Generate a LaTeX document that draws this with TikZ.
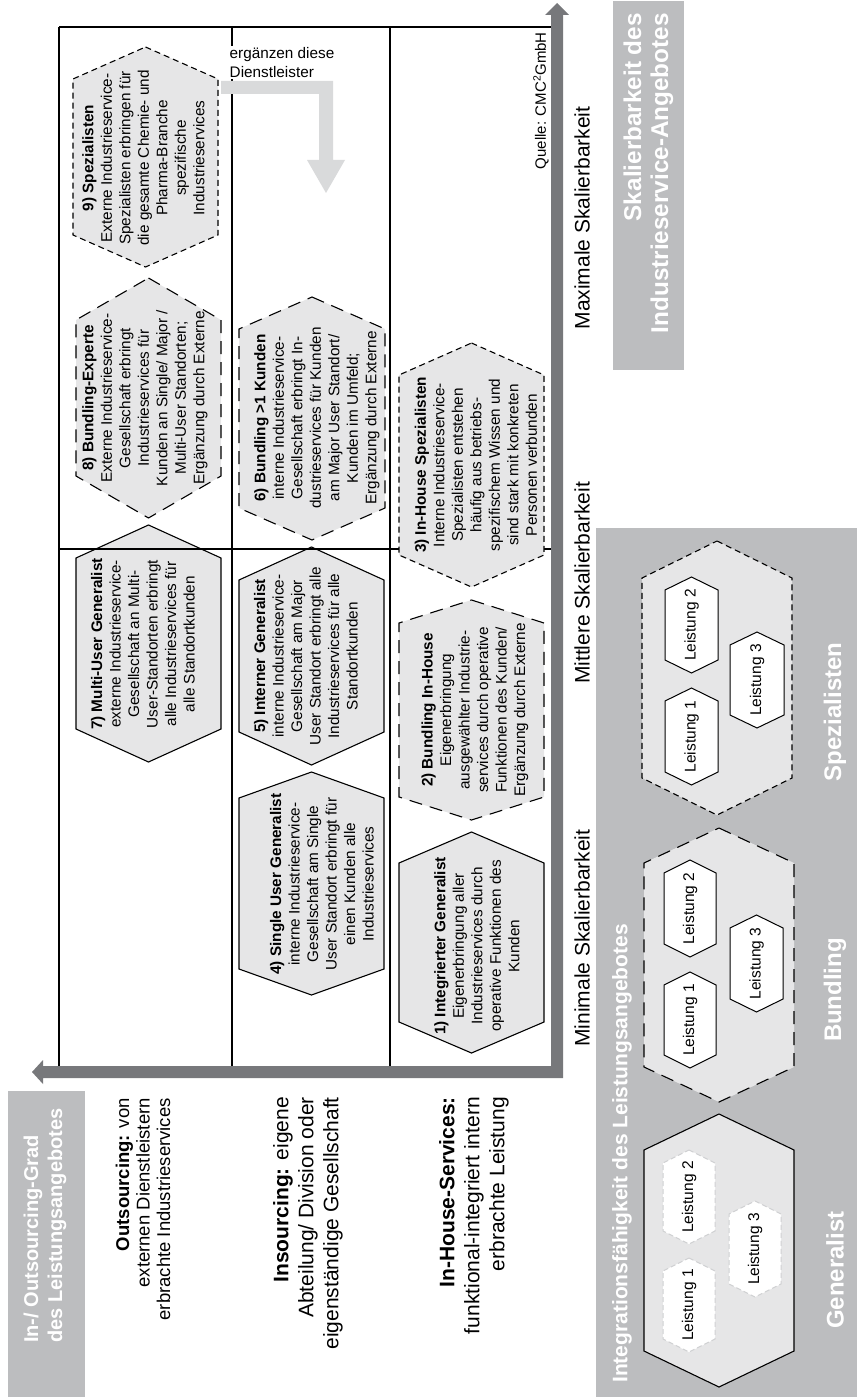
\documentclass[tikz,border=0pt]{standalone}
\usepackage{fontspec}
\setmainfont{Liberation Sans}
\definecolor{panelgray}{HTML}{BCBDBF}
\definecolor{hexgray}{HTML}{E6E6E7}
\definecolor{axisgray}{HTML}{77787B}
\definecolor{hintgray}{HTML}{D9DADB}
\definecolor{ghostgray}{HTML}{CFD0D2}

% hexagon with pointed ends at top and bottom: [style]{left}{right}{top}{bottom}{shoulder}
\newcommand\hexshape[6][]{%
  \draw[#1] ({(#2+#3)/2},#4) -- (#3,{#4+#6}) -- (#3,{#5-#6}) -- ({(#2+#3)/2},#5)
    -- (#2,{#5-#6}) -- (#2,{#4+#6}) -- cycle;}

\tikzset{
  hexsolid/.style={fill=hexgray, draw=black, line width=1.1pt},
  hexlong/.style={fill=hexgray, draw=black, line width=1.1pt, dash pattern=on 13pt off 8pt},
  hexshort/.style={fill=hexgray, draw=black, line width=1.1pt, dash pattern=on 6pt off 4pt},
  smallhex/.style={fill=white, draw=black, line width=1pt},
  ghosthex/.style={fill=white, draw=ghostgray, line width=1pt, dash pattern=on 5pt off 3pt},
  gridline/.style={draw=black, line width=1.3pt},
  body/.style={rotate=90, align=center, inner sep=0pt, font=\fontsize{15.3}{18.5}\selectfont},
  rowlabel/.style={rotate=90, align=right, inner sep=0pt, anchor=east},
  collabel/.style={rotate=90, inner sep=0pt, font=\fontsize{21}{25}\selectfont},
  paneltitle/.style={rotate=90, inner sep=0pt, text=white, font=\bfseries\fontsize{21}{25}\selectfont},
  kindlabel/.style={rotate=90, inner sep=0pt, text=white, font=\bfseries\fontsize{24}{28}\selectfont},
  leist/.style={rotate=90, inner sep=0pt, font=\fontsize{15.5}{18}\selectfont},
}

\begin{document}
\begin{tikzpicture}[x=1pt,y=-1pt]
\useasboundingbox (0,0) rectangle (857,1399);

% grey title panels
\fill[panelgray] (8,1091) rectangle (85,1397);
\fill[panelgray] (613,1) rectangle (684,370);
\fill[panelgray] (596,528) rectangle (857,1397);

% integration types in the lower panel
\hexshape[hexshort]{642}{792}{541}{815}{37}
\hexshape[hexlong]{644}{794}{828}{1102}{35}
\hexshape[hexsolid]{644}{794}{1114}{1387}{36}

% services inside "Spezialisten"
\hexshape[smallhex]{665}{718}{577}{673}{13}
\hexshape[smallhex]{730}{784}{632}{728}{13}
\hexshape[smallhex]{665}{718}{688}{785}{13}
% services inside "Bundling"
\hexshape[smallhex]{664}{716}{860}{957}{13}
\hexshape[smallhex]{730}{783}{915}{1012}{13}
\hexshape[smallhex]{664}{716}{972}{1068}{13}
% services inside "Generalist"
\hexshape[ghosthex]{663}{715}{1150}{1244}{13}
\hexshape[ghosthex]{729}{781}{1201}{1297}{13}
\hexshape[ghosthex]{663}{715}{1258}{1352}{13}

\node[leist] (sp2) at (691.5,625) {Leistung 2};
\node[leist] (sp3) at (757,680) {Leistung 3};
\node[leist] (sp1) at (691.5,736.5) {Leistung 1};
\node[leist] (bu2) at (690,908.5) {Leistung 2};
\node[leist] (bu3) at (756.5,963.5) {Leistung 3};
\node[leist] (bu1) at (690,1020) {Leistung 1};
\node[leist] (ge2) at (689,1197) {Leistung 2};
\node[leist] (ge3) at (755,1249) {Leistung 3};
\node[leist] (ge1) at (689,1305) {Leistung 1};

% matrix cells
\hexshape[hexshort]{73}{218}{47}{267}{32}
\hexshape[hexlong]{76}{221}{278}{518}{42}
\hexshape[hexsolid]{76}{221}{525}{762}{33}
\hexshape[hexlong]{239}{385}{297}{540}{32}
\hexshape[hexsolid]{239}{384}{547}{765}{33}
\hexshape[hexsolid]{239}{384}{772}{995}{26}
\hexshape[hexlong]{399}{544}{600}{820}{23}
\hexshape[hexsolid]{399}{544}{832}{1053}{31}

% grid of the matrix
\draw[gridline] (59,27) -- (551,27);
\draw[gridline] (59,549) -- (551,549);
\draw[gridline] (59,27) -- (59,1066);
\draw[gridline] (232,27) -- (232,1066);
\draw[gridline] (390,27) -- (390,1066);

\hexshape[hexshort]{399}{544}{343}{587}{32}

% hint arrow
\node[anchor=west, fill=white, inner sep=1.5pt, align=left,
      font=\fontsize{15.3}{18.5}\selectfont] (hint) at (228,62.5) {ergänzen diese\\Dienstleister};
\fill[hintgray] (221,81) -- (333,81) -- (333,160) -- (345,160) -- (326,193)
  -- (307,160) -- (319,160) -- (319,94) -- (221,94) -- cycle;

% axes
\fill[axisgray] (563,1078) -- (43,1078) -- (43,1084) -- (32,1072) -- (43,1060)
  -- (43,1066) -- (551,1066) -- (551,15) -- (545,15) -- (557,3) -- (569,15)
  -- (563,15) -- cycle;

% cell texts
\node[body] (h9) at (143.5,158) {\textbf{9) Spezialisten}\\Externe Industrieservice-\\Spezialisten erbringen für\\die gesamte Chemie- und\\Pharma-Branche\\spezifische\\Industrieservices};
\node[body] (h8) at (145,398) {\textbf{8) Bundling-Experte}\\Externe Industrieservice-\\Gesellschaft erbringt\\Industrieservices für\\Kunden an Single/ Major /\\Multi-User Standorten;\\Ergänzung durch Externe};
\node[body] (h7) at (143,644) {\textbf{7) Multi-User Generalist}\\externe Industrieservice-\\Gesellschaft an Multi-\\User-Standorten erbringt\\alle Industrieservices für\\alle Standortkunden};
\node[body] (h6) at (317,418) {\textbf{6) Bundling >1 Kunden}\\interne Industrieservice-\\Gesellschaft erbringt In-\\dustrieservices für Kunden\\am Major User Standort/\\Kunden im Umfeld;\\Ergänzung durch Externe};
\node[body] (h5) at (306,656) {\textbf{5) Interner Generalist}\\interne Industrieservice-\\Gesellschaft am Major\\User Standort erbringt alle\\Industrieservices für alle\\Standortkunden};
\node[body] (h4) at (322,884) {\textbf{4) Single User Generalist}\\interne Industrieservice-\\Gesellschaft am Single\\User Standort erbringt für\\einen Kunden alle\\Industrieservices};
\node[body] (h3) at (476,465) {\textbf{3) In-House Spezialisten}\\Interne Industrieservice-\\Spezialisten entstehen\\häufig aus betriebs-\\spezifischem Wissen und\\sind stark mit konkreten\\Personen verbunden};
\node[body] (h2) at (475,710) {\textbf{2) Bundling In-House}\\Eigenerbringung\\ausgewählter Industrie-\\services durch operative\\Funktionen des Kunden/\\Ergänzung durch Externe};
\node[body] (h1) at (477,946) {\textbf{1) Integrierter Generalist}\\Eigenerbringung aller\\Industrieservices durch\\operative Funktionen des\\Kunden};

% row labels
\node[rowlabel, font=\fontsize{18.5}{20.5}\selectfont] (out) at (143,1098) {\textbf{Outsourcing:} von\\externen Dienstleistern\\erbrachte Industrieservices};
\node[rowlabel, font=\fontsize{21}{25}\selectfont] (ins) at (308,1097) {\textbf{Insourcing:} eigene\\Abteilung/ Division oder\\eigenständige Gesellschaft};
\node[rowlabel, font=\fontsize{21}{25}\selectfont] (inh) at (474,1097) {\textbf{In-House-Services:}\\funktional-integriert intern\\erbrachte Leistung};

% column labels
\node[collabel] (cmax) at (582,218) {Maximale Skalierbarkeit};
\node[collabel] (cmid) at (582,583) {Mittlere Skalierbarkeit};
\node[collabel] (cmin) at (582,938) {Minimale Skalierbarkeit};

\node[rotate=90, anchor=east, inner sep=0pt, font=\fontsize{15}{18}\selectfont] (src) at (541,32) {Quelle: CMC\textsuperscript{2}GmbH};

% panel titles
\node[paneltitle, anchor=west, align=left, font=\bfseries\fontsize{20}{24}\selectfont] (tout) at (45,1343) {In-/ Outsourcing-Grad\\des Leistungsangebotes};
\node[paneltitle, anchor=east, align=right, font=\bfseries\fontsize{24.3}{27}\selectfont] (tska) at (648.5,13) {Skalierbarkeit des\\Industrieservice-Angebotes};
\node[paneltitle, anchor=west] (tint) at (622,1383) {Integrationsfähigkeit des Leistungsangebotes};
\node[kindlabel] (tgen) at (835,1270) {Generalist};
\node[kindlabel] (tbun) at (835,990) {Bundling};
\node[kindlabel] (tspe) at (835,712) {Spezialisten};
\end{tikzpicture}
\end{document}
